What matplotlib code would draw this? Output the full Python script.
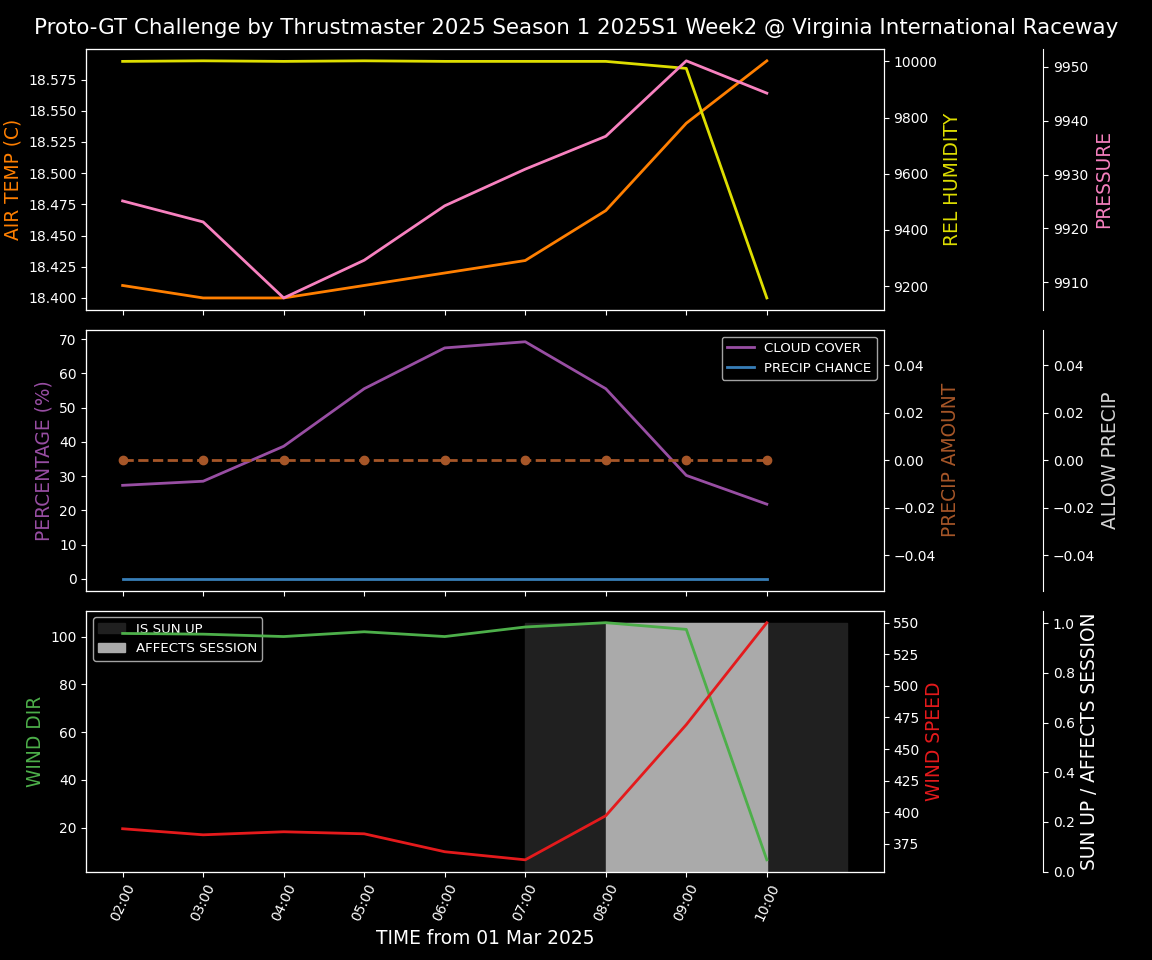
import matplotlib
matplotlib.use("Agg")
import matplotlib.pyplot as plt
import matplotlib.dates as mdates
import pandas as pd

# weather forecast values
hours = ["02:00", "03:00", "04:00", "05:00", "06:00", "07:00", "08:00", "09:00", "10:00"]
air_temp = [18.41, 18.40, 18.40, 18.41, 18.42, 18.43, 18.47, 18.54, 18.59]
rel_humidity = [10000, 10002, 10000, 10002, 10000, 10000, 10000, 9975, 9158]
pressure = [9925.1, 9921.2, 9907.1, 9914.1, 9924.2, 9931.0, 9937.1, 9951.1, 9945.1]
cloud_cover = [27.3, 28.5, 38.7, 55.5, 67.4, 69.2, 55.5, 30.2, 21.8]
precip_chance = [0, 0, 0, 0, 0, 0, 0, 0, 0]
precip_amount = [0, 0, 0, 0, 0, 0, 0, 0, 0]
wind_dir = [101.3, 101.0, 100.0, 102.0, 100.0, 104.0, 105.8, 103.0, 6.6]
wind_speed = [386.9, 382.1, 384.5, 382.9, 368.7, 362.3, 397.2, 469.3, 550.0]

sun_hours = ["02:00", "03:00", "04:00", "05:00", "06:00", "07:00", "08:00", "09:00", "10:00", "11:00"]
sun_up = [0, 0, 0, 0, 0, 1, 1, 1, 1, 1]
affects_session = [0, 0, 0, 0, 0, 0, 1, 1, 1, 0]

t = pd.to_datetime(["2025-03-01 " + h for h in hours])
ts = pd.to_datetime(["2025-03-01 " + h for h in sun_hours])

plt.style.use("dark_background")
fig, axs = plt.subplots(3, 1, figsize=(11.52, 9.6), dpi=100, sharex=True)
fig.subplots_adjust(left=0.075, right=0.767, top=0.949, bottom=0.092, hspace=0.077)
fig.suptitle("Proto-GT Challenge by Thrustmaster 2025 Season 1 2025S1 Week2 @ Virginia International Raceway",
             fontsize=15.4, y=0.981)

c_temp, c_hum, c_pres = "#ff7f00", "#dede00", "#f781bf"
c_cloud, c_chance, c_amount = "#984ea3", "#377eb8", "#a65628"
c_dir, c_speed = "#4daf4a", "#e41a1c"
lab = 13.4

# top panel
ax = axs[0]
ax.plot(t, air_temp, color=c_temp, lw=2)
ax.set_ylabel("AIR TEMP (C)", color=c_temp, fontsize=lab)
ax1b = ax.twinx()
ax1b.plot(t, rel_humidity, color=c_hum, lw=2)
ax1b.set_ylabel("REL HUMIDITY", color=c_hum, fontsize=lab)
ax1c = ax.twinx()
ax1c.spines["right"].set_position(("axes", 1.2))
ax1c.plot(t, pressure, color=c_pres, lw=2)
ax1c.set_ylabel("PRESSURE", color=c_pres, fontsize=lab)

# middle panel
ax = axs[1]
ax.plot(t, cloud_cover, color=c_cloud, lw=2, label="CLOUD COVER")
ax.plot(t, precip_chance, color=c_chance, lw=2, label="PRECIP CHANCE")
ax.set_ylabel("PERCENTAGE (%)", color=c_cloud, fontsize=lab)
ax.legend(loc="upper right", fontsize=9.6)
ax2b = ax.twinx()
ax2b.plot(t, precip_amount, color=c_amount, lw=2, ls="--", marker="o")
ax2b.set_ylabel("PRECIP AMOUNT", color=c_amount, fontsize=lab)
ax2c = ax.twinx()
ax2c.spines["right"].set_position(("axes", 1.2))
ax2c.set_ylim(-0.055, 0.055)
ax2c.set_ylabel("ALLOW PRECIP", color="lightgray", fontsize=lab)

# bottom panel
ax = axs[2]
ax3c = ax.twinx()
ax3c.spines["right"].set_position(("axes", 1.2))
ax3c.fill_between(ts, 0, 1, where=[v == 1 for v in sun_up], color="#202020", label="IS SUN UP")
ax3c.fill_between(ts, 0, 1, where=[v == 1 for v in affects_session], color="#aaaaaa", label="AFFECTS SESSION")
ax3c.set_ylim(0, 1.05)
ax3c.set_ylabel("SUN UP / AFFECTS SESSION", fontsize=lab)
ax3c.legend(loc="upper left", fontsize=9.6)
ax.plot(t, wind_dir, color=c_dir, lw=2)
ax.set_ylabel("WIND DIR", color=c_dir, fontsize=lab)
ax3b = ax.twinx()
ax3b.plot(t, wind_speed, color=c_speed, lw=2)
ax3b.set_ylabel("WIND SPEED", color=c_speed, fontsize=lab)

# keep the lines above the shaded sun bands
ax3c.set_zorder(1)
ax.set_zorder(2)
ax3b.set_zorder(3)
ax.patch.set_visible(False)
ax3b.patch.set_visible(False)

ax.set_xlabel("TIME from 01 Mar 2025", fontsize=lab)
ax.xaxis.set_major_formatter(mdates.DateFormatter("%H:%M"))
ax.set_xticks(t)
for lbl in ax.get_xticklabels():
    lbl.set_rotation(65)

plt.savefig("out.png", dpi=100, facecolor="black")
